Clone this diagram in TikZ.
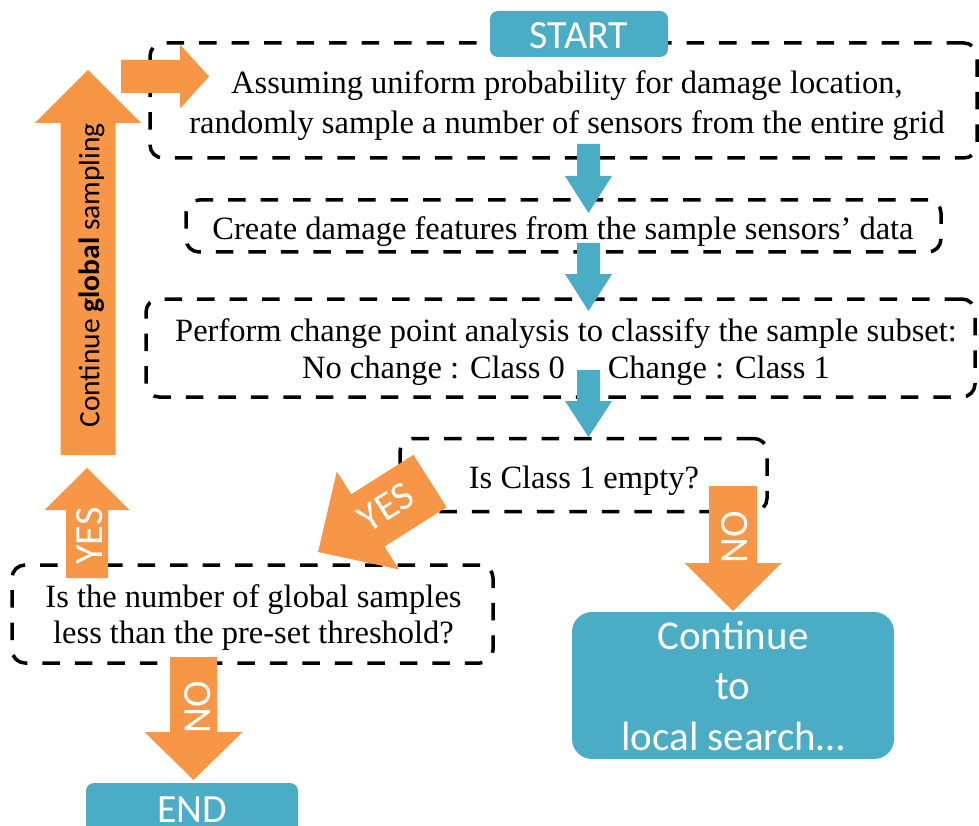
\documentclass[tikz,border=0pt]{standalone}
\usepackage{fontspec}
\setmainfont{Liberation Serif}
\newfontfamily\labelsans{Carlito}
\definecolor{flowteal}{HTML}{4BACC6}
\definecolor{floworange}{HTML}{F79646}
\tikzset{
  stepbox/.style={draw=black, line width=3.5pt, dash pattern=on 17.5pt off 15pt,
    rounded corners=13pt, inner sep=0pt},
  steptext/.style={align=center, inner sep=0pt, font=\fontsize{32.5}{#1}\selectfont},
  steptext/.default=38,
  terminal/.style={fill=flowteal, text=white, rounded corners=8pt, inner sep=0pt,
    font=\labelsans\fontsize{40}{48}\selectfont},
  arrowlabel/.style={text=white, inner sep=0pt, font=\labelsans\fontsize{40}{48}\selectfont},
  % block arrow along the local x axis: length, shaft width, head width, head length
  pics/blockarrow/.style n args={4}{code={
    \fill[pic actions] (0,{-#2/2}) -- ({#1-#4},{-#2/2}) -- ({#1-#4},{-#3/2}) -- (#1,0)
      -- ({#1-#4},{#3/2}) -- ({#1-#4},{#2/2}) -- (0,{#2/2}) -- cycle;
  }},
}
\begin{document}
\begin{tikzpicture}[x=1pt,y=1pt]
\useasboundingbox (0,0) rectangle (979,-826);

% dashed process boxes
\node[stepbox, minimum width=827, minimum height=115] (sample) at (563.5,-100.5) {};
\node[stepbox, minimum width=755, minimum height=52] (features) at (563.5,-226) {};
\node[stepbox, minimum width=829, minimum height=98] (classify) at (560.5,-348) {};
\node[stepbox, minimum width=367, minimum height=73] (empty) at (583.5,-475) {};
\node[stepbox, minimum width=481, minimum height=98] (threshold) at (252.5,-614) {};

% box texts
\node[steptext=39.4] (sampletext) at (567,-105.4)
  {Assuming uniform probability for damage location,\\randomly sample a number of sensors from the entire grid};
\node[steptext] (featurestext) at (563,-231.4)
  {Create damage features from the sample sensors’ data};
\node[steptext=37.3] (classifytext) at (566,-352.1)
  {Perform change point analysis to classify the sample subset:\\No change : Class 0\hspace{43pt}Change : Class 1};
\node[steptext] (emptytext) at (584,-480.9) {Is Class 1 empty?};
\node[steptext=36.6] (thresholdtext) at (253.5,-617.4)
  {Is the number of global samples\\less than the pre-set threshold?};

% orange block arrows
\pic[fill=floworange] at (121,-76.5) {blockarrow={88}{33}{64}{29}};
\pic[fill=floworange, rotate=90] at (88,-455) {blockarrow={385}{55}{106}{53}};
\pic[fill=floworange, rotate=90] at (87,-578) {blockarrow={110}{42}{85}{42}};
\pic[fill=floworange, rotate=212.4] at (430,-481) {blockarrow={132.6}{62}{116}{59}};
\pic[fill=floworange, rotate=-90] at (733,-486) {blockarrow={125}{48}{97}{48}};
\pic[fill=floworange, rotate=-90] at (193.5,-657) {blockarrow={123}{47}{98}{48}};

% blue block arrows between the steps
\pic[fill=flowteal, rotate=-90] at (588.5,-144) {blockarrow={69}{23}{47}{37}};
\pic[fill=flowteal, rotate=-90] at (588.5,-243) {blockarrow={68}{23}{47}{37}};
\pic[fill=flowteal, rotate=-90] at (588.5,-370) {blockarrow={67}{23}{47}{36}};

% terminals
\node[terminal, minimum width=178, minimum height=46, text height=30pt, text depth=0pt,
  anchor=base] (start) at (579,-49) {START};
\node[terminal, minimum width=212, minimum height=92, text height=26pt, text depth=40pt,
  anchor=base] (end) at (192,-822) {END};
\node[terminal, rounded corners=20pt, minimum width=322, minimum height=147, align=center,
  font=\labelsans\fontsize{41}{50.5}\selectfont] (local) at (733,-685.5)
  {Continue\\to\\local search…};

% arrow labels
\node[rotate=90, anchor=base, inner sep=0pt, font=\labelsans\fontsize{29.5}{35}\selectfont]
  (globaltext) at (99.3,-275.5) {Continue \textbf{global} sampling};
\node[arrowlabel, rotate=90, anchor=base] (yesup) at (102,-536) {YES};
\node[arrowlabel, rotate=32.4] (yesdiag) at (386,-507) {YES};
\node[arrowlabel, rotate=90, anchor=base] (nolocal) at (747,-537) {NO};
\node[arrowlabel, rotate=90, anchor=base] (noend) at (210,-707.5) {NO};
\end{tikzpicture}
\end{document}
